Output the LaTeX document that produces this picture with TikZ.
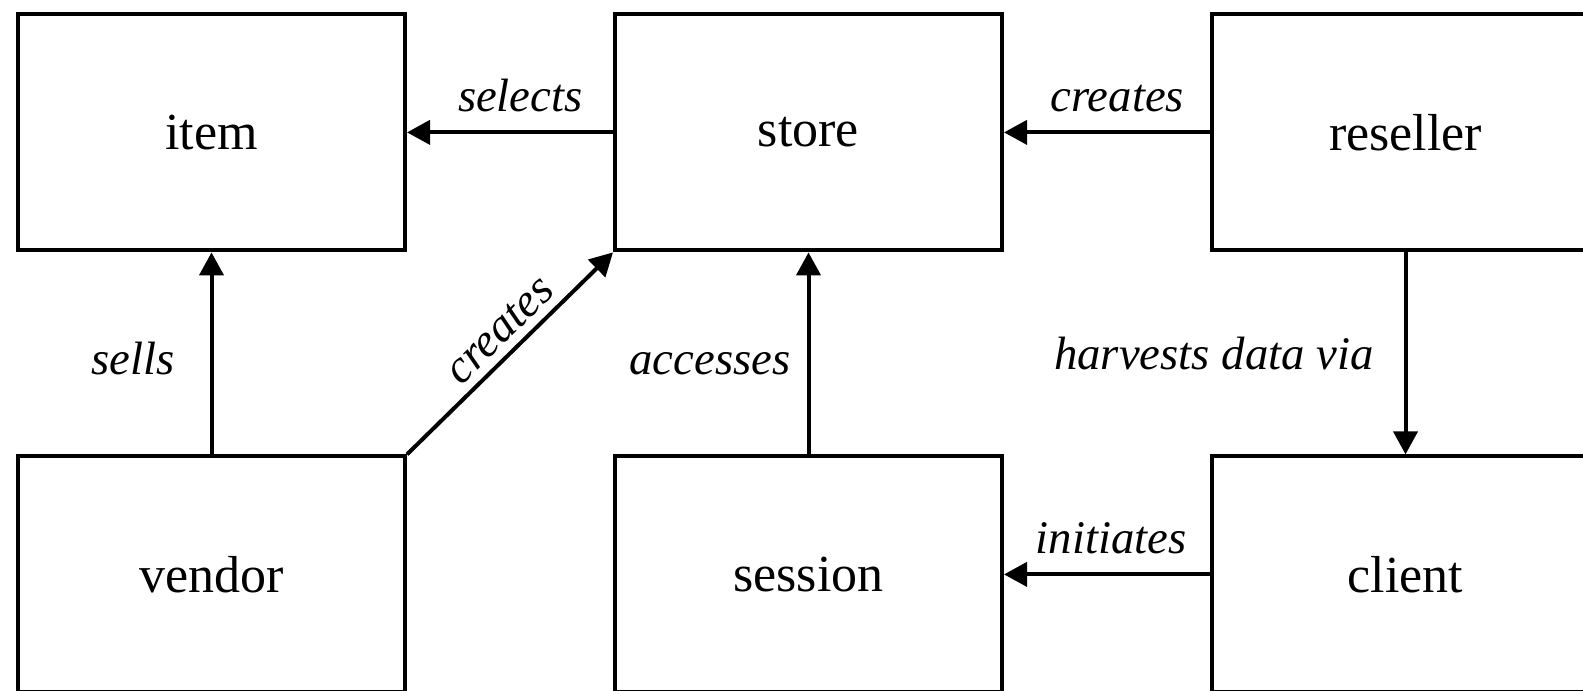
\documentclass[tikz,border=0pt]{standalone}
\usepackage{fontspec}
\setmainfont{Liberation Serif}
\usetikzlibrary{calc}
\usetikzlibrary{positioning}
\usetikzlibrary{arrows.meta}
\tikzstyle{entity} = [draw, rectangle, line width=0.04cm, minimum width=3.87cm, minimum height=2.36cm, font=\fontsize{14.8}{18}\selectfont]
\tikzstyle{rel} = [inner sep=0pt, font=\fontsize{13.3}{16}\selectfont\itshape]
\tikzstyle{flow} = [line width=0.04cm, -{Triangle[length=0.23cm, width=0.24cm]}]

\begin{document}
\begin{tikzpicture}
\useasboundingbox (0,0) rectangle (15.83,-6.91);
\node[entity] (item) at (2.115,-1.324) {item};
\node[entity] (store) at ($(item)+(5.97,0)$) {store};
\node[entity] (reseller) at ($(store)+(5.97,0)$) {reseller};
\node[entity] (vendor) at ($(item)+(0,-4.42)$) {vendor};
\node[entity] (session) at ($(store)+(0,-4.42)$) {session};
\node[entity] (client) at ($(reseller)+(0,-4.42)$) {client};

\draw[flow] (store) -- node[rel, above=0.18cm, pos=0.45] {selects} (item);
\draw[flow] (reseller) -- node[rel, above=0.18cm, pos=0.45] {creates} (store);
\draw[flow] (client) -- node[rel, above=0.18cm, pos=0.48] {initiates} (session);
\draw[flow] (vendor) -- node[rel, left=0.35cm, yshift=-0.05cm] {sells} (item);
\draw[flow] (session) -- node[rel, left=0.16cm, yshift=-0.1cm] {accesses} (store);
\draw[flow] (reseller) -- node[rel, left=0.3cm] {harvests data via} (client);
\draw[flow] (vendor.north east) -- node[rel, sloped, above=0.08cm, pos=0.53] {creates} (store.south west);
\end{tikzpicture}
\end{document}
